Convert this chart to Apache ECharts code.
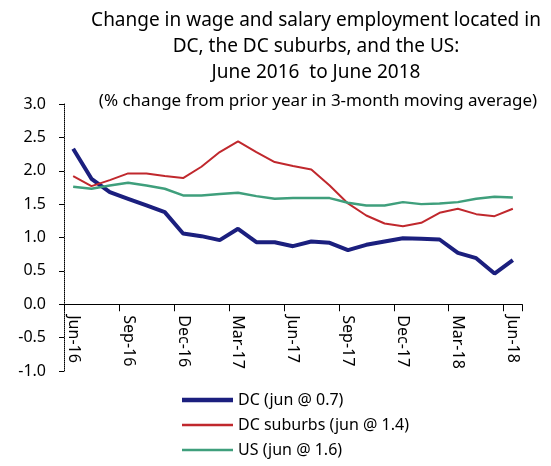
<!DOCTYPE html>
<html>
<head>
<meta charset="utf-8">
<script src="https://cdn.jsdelivr.net/npm/echarts@6/dist/echarts.min.js"></script>
<style>
  html, body { margin: 0; padding: 0; background: #fff; }
  #main { width: 551px; height: 466px; }
</style>
</head>
<body>
<div id="main"></div>
<script>
// monthly, Jun-16 .. Jun-18
var months = ["Jun-16", "Jul-16", "Aug-16", "Sep-16", "Oct-16", "Nov-16", "Dec-16",
  "Jan-17", "Feb-17", "Mar-17", "Apr-17", "May-17", "Jun-17", "Jul-17", "Aug-17",
  "Sep-17", "Oct-17", "Nov-17", "Dec-17", "Jan-18", "Feb-18", "Mar-18", "Apr-18",
  "May-18", "Jun-18"];

var dc = [2.33, 1.88, 1.68, 1.58, 1.48, 1.38, 1.06, 1.02, 0.96, 1.13, 0.93, 0.93, 0.87,
  0.94, 0.92, 0.81, 0.89, 0.94, 0.99, 0.98, 0.97, 0.77, 0.69, 0.46, 0.66];
var dcSuburbs = [1.92, 1.77, 1.86, 1.96, 1.96, 1.92, 1.89, 2.06, 2.28, 2.44, 2.28, 2.13, 2.07,
  2.02, 1.78, 1.51, 1.33, 1.21, 1.17, 1.22, 1.37, 1.43, 1.35, 1.32, 1.43];
var us = [1.76, 1.73, 1.78, 1.82, 1.78, 1.73, 1.63, 1.63, 1.65, 1.67, 1.62, 1.58, 1.59,
  1.59, 1.59, 1.52, 1.48, 1.48, 1.53, 1.50, 1.51, 1.53, 1.58, 1.61, 1.60];

var seriesNames = ["DC (jun @ 0.7)", "DC suburbs (jun @ 1.4)", "US (jun @ 1.6)"];
var colors = ["#1b1f7e", "#c0282d", "#3f9f7c"];

var font = "Noto Sans";
var yMin = -1, yMax = 3;
var gridTop = 104, gridBottom = 95;
var plotH = 466 - gridTop - gridBottom;
// x axis sits on the zero line, as in the original
var xOffset = -plotH * (0 - yMin) / (yMax - yMin);

var chart = echarts.init(document.getElementById("main"));
chart.setOption({
  animation: false,
  textStyle: { fontFamily: font },
  title: [
    {
      text: "Change in wage and salary employment located in\nDC, the DC suburbs, and the US:\nJune 2016  to June 2018",
      left: 311,
      top: 3,
      textAlign: "center",
      textStyle: { fontSize: 19, fontWeight: "normal", color: "#000", lineHeight: 26, fontFamily: font }
    },
    {
      text: "(% change from prior year in 3-month moving average)",
      left: 313,
      top: 88,
      textAlign: "center",
      textStyle: { fontSize: 17, fontWeight: "normal", color: "#000", fontFamily: font }
    }
  ],
  legend: {
    orient: "vertical",
    left: 182,
    top: 392,
    padding: 0,
    itemGap: 9,
    itemWidth: 51,
    itemHeight: 16,
    textStyle: { fontSize: 16, color: "#000", fontFamily: font },
    data: [
      { name: seriesNames[0], icon: "path://M0,0 H51 V4.5 H0 Z" },
      { name: seriesNames[1], icon: "path://M0,0 H51 V2.5 H0 Z" },
      { name: seriesNames[2], icon: "path://M0,0 H51 V2.5 H0 Z" }
    ]
  },
  grid: { left: 64, right: 29, top: gridTop, bottom: gridBottom },
  xAxis: {
    type: "category",
    data: months,
    boundaryGap: true,
    offset: xOffset,
    axisLine: { onZero: false, lineStyle: { color: "#000", width: 1 } },
    axisTick: { show: true, interval: 2, length: 7, lineStyle: { color: "#000", width: 1 } },
    axisLabel: { interval: 2, rotate: -90, fontSize: 16, color: "#000", margin: 11 },
    splitLine: { show: false }
  },
  yAxis: {
    type: "value",
    min: yMin,
    max: yMax,
    interval: 0.5,
    axisLine: { show: true, lineStyle: { color: "#000", type: "dotted" } },
    axisTick: { show: true, length: 5, lineStyle: { color: "#000" } },
    axisLabel: {
      fontSize: 16, color: "#000", margin: 18,
      formatter: function (v) { return v.toFixed(1); }
    },
    splitLine: { show: false }
  },
  series: [
    {
      name: seriesNames[0], type: "line", data: dc, symbol: "none",
      lineStyle: { color: colors[0], width: 4 }, itemStyle: { color: colors[0] }
    },
    {
      name: seriesNames[1], type: "line", data: dcSuburbs, symbol: "none",
      lineStyle: { color: colors[1], width: 2 }, itemStyle: { color: colors[1] }
    },
    {
      name: seriesNames[2], type: "line", data: us, symbol: "none",
      lineStyle: { color: colors[2], width: 2.5 }, itemStyle: { color: colors[2] }
    }
  ]
});
</script>
</body>
</html>
